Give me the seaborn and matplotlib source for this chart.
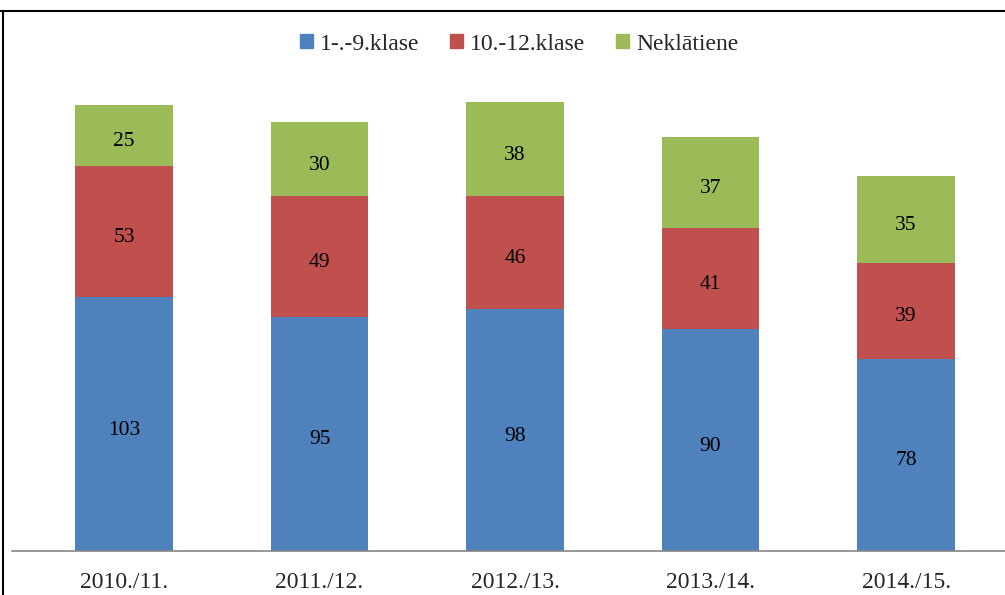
import matplotlib
matplotlib.use("Agg")
import matplotlib.pyplot as plt
import seaborn as sns
import pandas as pd
import numpy as np
from matplotlib.lines import Line2D
from matplotlib.patches import Patch

categories = ["2010./11.", "2011./12.", "2012./13.", "2013./14.", "2014./15."]
grades_1_9 = [103, 95, 98, 90, 78]
grades_10_12 = [53, 49, 46, 41, 39]
neklatiene = [25, 30, 38, 37, 35]
series_names = ["1-.-9.klase", "10.-12.klase", "Neklātiene"]
colors = ["#4F81BD", "#C0504D", "#9BBB59"]

sns.set_theme(style="white")
plt.rcParams['font.family'] = ['Liberation Serif', 'DejaVu Serif']

fig = plt.figure(figsize=(10.05, 5.95), dpi=100)
W, H = 1005, 595
ax = fig.add_axes([12 / W, (H - 551) / H, (1005 - 12) / W, (551 - 58) / H])

df = pd.DataFrame({"cat": categories, "a": grades_1_9, "b": grades_10_12, "c": neklatiene})
bottoms = np.zeros(len(categories))
for col, name, color in zip(["a", "b", "c"], series_names, colors):
    sns.barplot(data=df, x="cat", y=col, color=color, width=0.5, bottom=bottoms,
                ax=ax, saturation=1, label=name, linewidth=0, edgecolor=color)
    bottoms = bottoms + df[col].values

for cont in ax.containers:
    texts = ax.bar_label(cont, label_type="center", fontsize=15.5, color="black")
    for t in texts:
        t.xyann = (0, -4.3)

ax.set_xlim(-0.573, 4.506)
ax.set_ylim(0, 200)
ax.set_xlabel("")
ax.set_ylabel("")
ax.set_yticks([])
for s in ["top", "right", "left"]:
    ax.spines[s].set_visible(False)
ax.spines["bottom"].set_color("#868686")
ax.spines["bottom"].set_linewidth(1.2)
ax.tick_params(axis="x", length=0, pad=15, labelsize=17)

handles = [Patch(facecolor=c, edgecolor=c) for c in colors]
fig.legend(handles, series_names, loc="center", bbox_to_anchor=(519 / W, 1 - 44 / H),
           ncol=3, frameon=False, fontsize=17, handlelength=0.55, handleheight=0.55,
           handletextpad=0.3, columnspacing=1.3)
if ax.get_legend():
    ax.get_legend().remove()

fig.add_artist(Line2D([0, 1], [1 - 11 / H, 1 - 11 / H], color="black", lw=1.5, transform=fig.transFigure))
fig.add_artist(Line2D([3 / W, 3 / W], [0, 1 - 11 / H], color="black", lw=1.5, transform=fig.transFigure))

fig.savefig("out.png", dpi=100)
